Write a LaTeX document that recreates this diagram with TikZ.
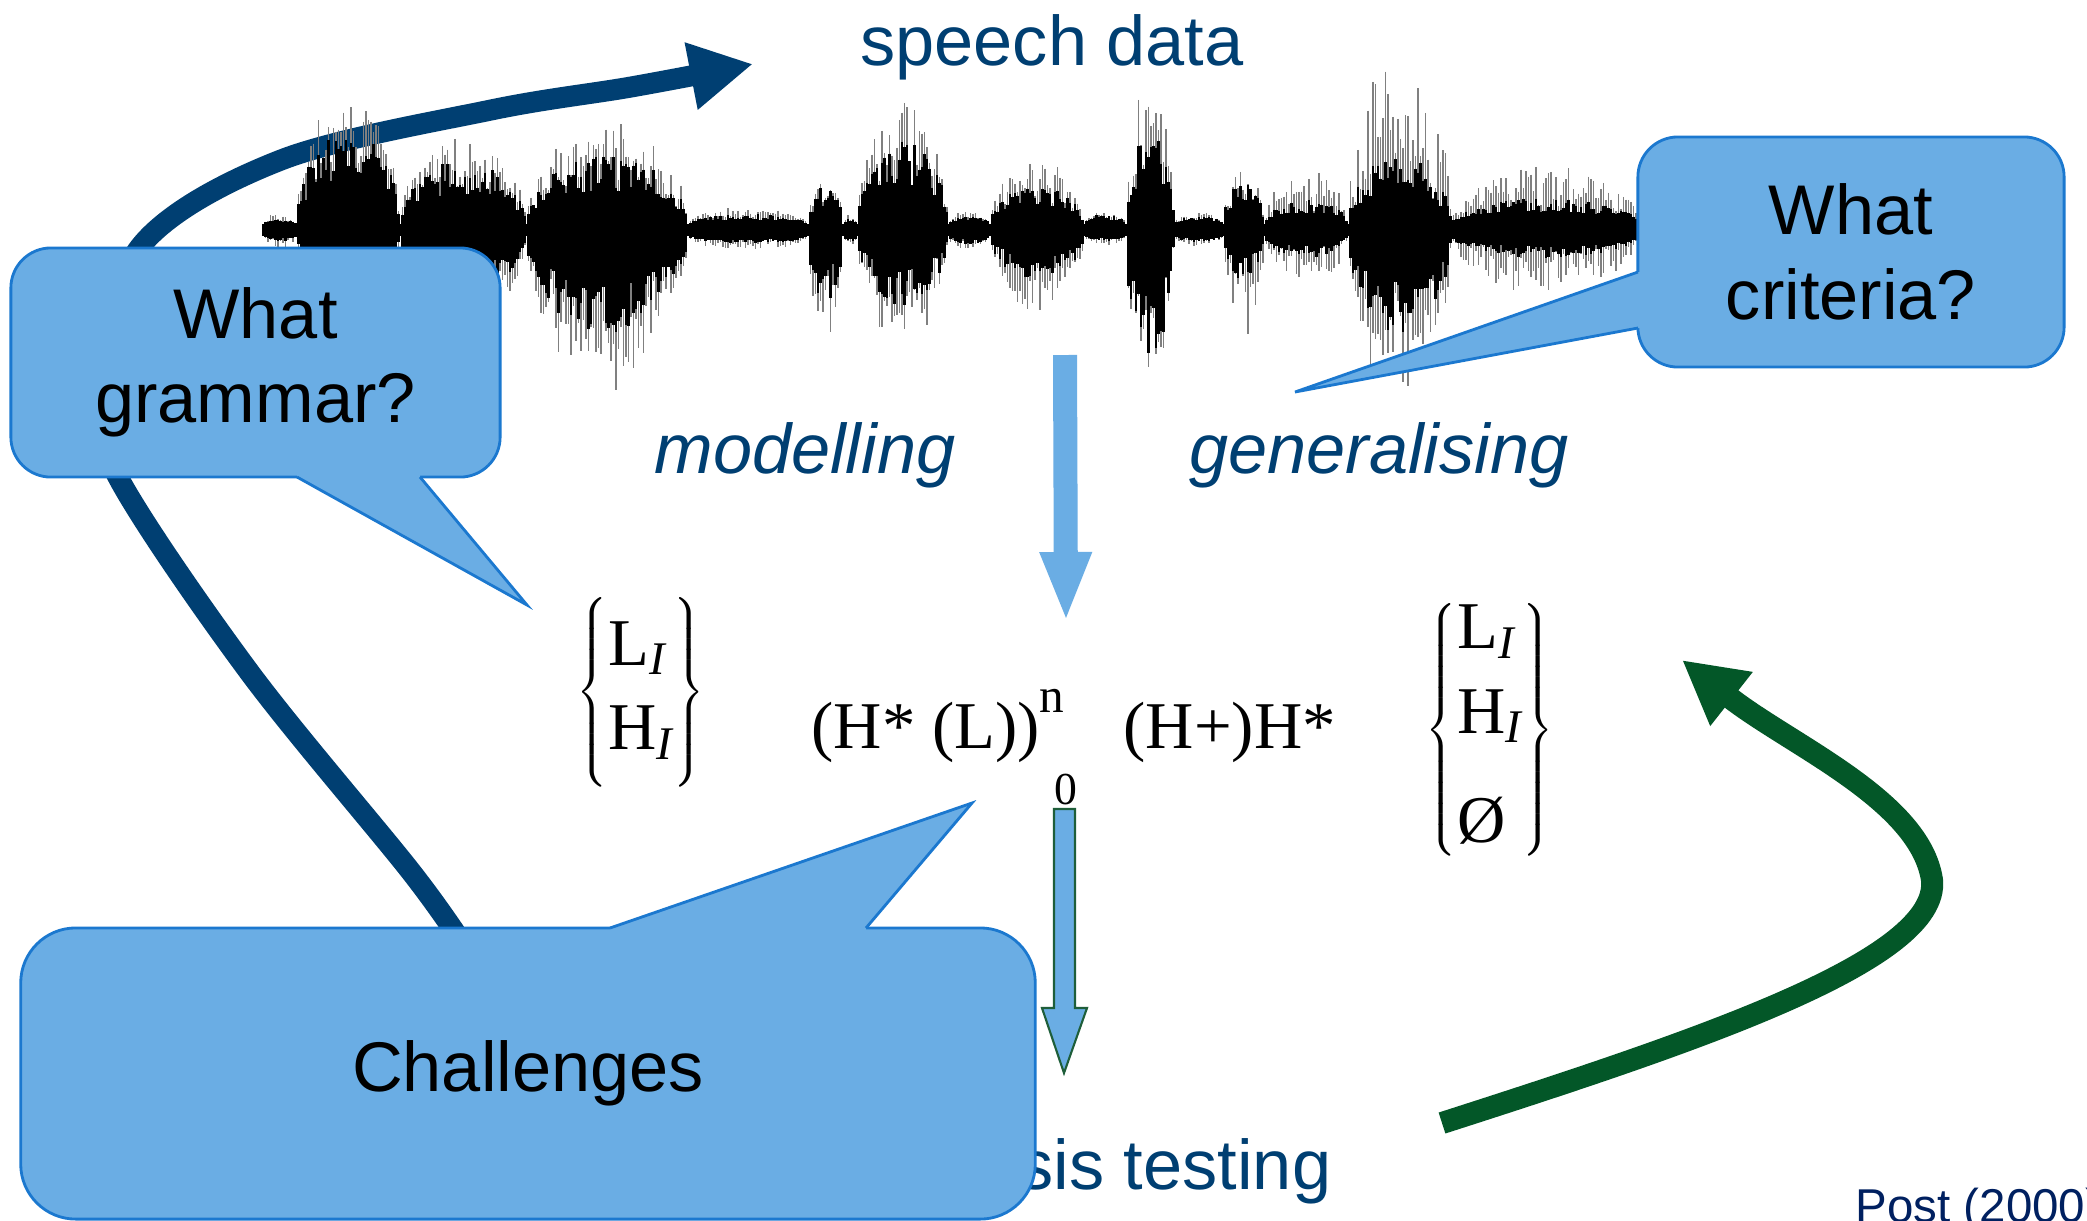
\documentclass[tikz,border=0pt]{standalone}
\usepackage{fontspec}
\setmainfont{Liberation Sans}
\newfontfamily\timesfont{Liberation Serif}
\usetikzlibrary{arrows.meta}

\definecolor{navy}{RGB}{0,63,114}
\definecolor{citeblue}{RGB}{0,32,96}
\definecolor{bubblefill}{RGB}{106,173,228}
\definecolor{bubbleline}{RGB}{27,120,207}
\definecolor{backgreen}{RGB}{3,87,40}
\definecolor{rimgreen}{RGB}{30,94,58}

\begin{document}
\begin{tikzpicture}[x=0.01cm,y=-0.01cm,
    bluetext/.style={text=navy, inner sep=0, font=\fontsize{20}{24}\selectfont},
    bubble/.style={fill=bubblefill, draw=bubbleline, line width=0.8pt,
        rounded corners=0.4cm, inner sep=0, align=center,
        font=\fontsize{20}{24}\selectfont},
    bubbletail/.style={fill=bubblefill},
    bubbleedge/.style={draw=bubbleline, line width=0.8pt},
    formula/.style={inner sep=0, font=\timesfont\fontsize{19}{22}\selectfont},
    wavebody/.style={black, line width=0.75pt},
    wavespike/.style={gray, line width=0.35pt},
    bigarrow/.style={line width=0.21cm, -{Triangle[width=0.64cm,length=0.63cm]}}]

    \path[use as bounding box, fill=white] (0,0) rectangle (2087,1220);
    \clip (0,0) rectangle (2087,1220);

    % loop arrow, behind everything
    \coordinate (loopstart) at (470,955);
    \coordinate (loopend) at (753,64);
    \draw[bigarrow, navy] plot[smooth, tension=0.55] coordinates {(loopstart)
        (412,873) (250,673) (118,477) (100,390) (140,247) (281,160) (491,110)
        (631,87) (loopend)};

    % speech signal
    \pgfmathsetseed{17}
    \foreach \xa/\xb/\up/\dn/\su/\sd in {263/296/5/5/8/8, 296/400/95/60/50/40,
        400/526/65/60/35/40, 526/688/70/100/40/60, 688/808/10/8/8/8,
        808/843/38/65/15/40, 843/857/6/6/4/4, 857/948/85/70/45/45,
        948/990/8/8/6/6, 990/1084/38/45/30/45, 1084/1126/10/5/5/5,
        1126/1174/95/125/60/20, 1174/1223/8/6/5/5, 1223/1264/45/45/15/70,
        1264/1348/25/22/35/35, 1348/1451/70/100/110/75, 1451/1640/26/22/35/40,
        1640/1700/20/20/10/10}{
        \pgfmathsetmacro\xs{\xa+2.5}
        \foreach \x in {\xa,\xs,...,\xb}{
            \pgfmathsetmacro\e{sqrt(abs(sin((\x-\xa)/(\xb-\xa)*180)))}
            \pgfmathsetmacro\bu{6+\up*\e*(0.45+0.55*rnd)}
            \pgfmathsetmacro\bd{6+\dn*\e*(0.45+0.55*rnd)}
            \pgfmathsetmacro\gu{\bu+\su*\e*rnd}
            \pgfmathsetmacro\gd{\bd+\sd*\e*rnd}
            \draw[wavespike] (\x,230-\gu) -- (\x,230+\gd);
            \draw[wavebody] (\x,230-\bu) -- (\x,230+\bd);
        }
    }

    % labels
    \node[bluetext, anchor=base] (speech) at (1052,65) {speech data};
    \node[bluetext, anchor=base, font=\itshape\fontsize{20}{24}\selectfont] (modelling) at (805,473) {modelling};
    \node[bluetext, anchor=base, font=\itshape\fontsize{20}{24}\selectfont] (generalising) at (1379,473) {generalising};
    \node[bluetext, anchor=base east] (hyptest) at (1332,1189) {hypothesis testing};

    % callouts top
    \node[bubble, minimum width=4.89cm, minimum height=2.29cm] (grammar) at (255.5,362.5) {What\\grammar?};
    \fill[bubbletail] (297,470) -- (297,477) -- (527,605) -- (420,477) -- (420,470) -- cycle;
    \draw[bubbleedge] (297,477) -- (527,605) -- (420,477);

    \node[bubble, minimum width=4.26cm, minimum height=2.30cm] (criteria) at (1851,252) {What\\criteria?};
    \fill[bubbletail] (1645,272) -- (1638,272) -- (1295,392) -- (1638,328) -- (1645,328) -- cycle;
    \draw[bubbleedge] (1638,272) -- (1295,392) -- (1638,328);

    % grammar formula
    \node[formula] (lgroup) at (641,692)
        {\delimitershortfall=-8pt$\left\{\begin{array}{@{}l@{}}\mbox{L\textsubscript{\itshape I}}\\[2pt]
        \mbox{H\textsubscript{\itshape I}}\end{array}\right\}$};
    \node[formula, anchor=base west] (core) at (811,748)
        {(H* (L))\raisebox{10pt}{\fontsize{14}{14}\selectfont n}};
    \node[formula, font=\timesfont\fontsize{13}{14}\selectfont] (zero) at (1066,790) {0};
    \node[formula, anchor=base west] (coda) at (1123,748) {(H+)H*};
    \node[formula] (rgroup) at (1490,730)
        {$\left\{\begin{array}{@{}l@{}}\mbox{L\textsubscript{\itshape I}}\\[2pt]
        \mbox{H\textsubscript{\itshape I}}\\[9pt]\mbox{Ø}\end{array}\right\}$};

    % down arrows
    \coordinate (mtop) at (1065,355);
    \coordinate (mtip) at (1066,622);
    \draw[draw=bubblefill, line width=0.24cm, -{Triangle[width=0.47cm,length=0.70cm]}] (mtop) -- (mtip);

    \coordinate (ttop) at (1064.5,809);
    \coordinate (ttip) at (1064,1073);
    \draw[fill=bubblefill, draw=rimgreen, line width=0.6pt] (ttop) ++(-10.5,0) -- ++(21,0)
        -- ++(0,199) -- ++(12,0) -- (ttip) -- (1042,1008) -- ++(12,0) -- cycle;

    % back arrow
    \coordinate (backstart) at (1442,1123);
    \coordinate (backend) at (1682,660);
    \draw[bigarrow, backgreen, line width=0.22cm] (backstart) .. controls (1700,1040) and (1940,960)
        .. (1932,880) .. controls (1920,800) and (1790,745) .. (backend);

    % challenges callout
    \node[bubble, rounded corners=0.55cm, minimum width=10.14cm, minimum height=2.91cm] (challenges) at (528,1073.5) {Challenges};
    \fill[bubbletail] (610,935) -- (610,928) -- (972,803) -- (866,928) -- (866,935) -- cycle;
    \draw[bubbleedge] (610,928) -- (972,803) -- (866,928);

    \node[text=citeblue, inner sep=0, anchor=base west, font=\fontsize{13.5}{16}\selectfont] (post) at (1855,1222) {Post (2000)};

\end{tikzpicture}
\end{document}
